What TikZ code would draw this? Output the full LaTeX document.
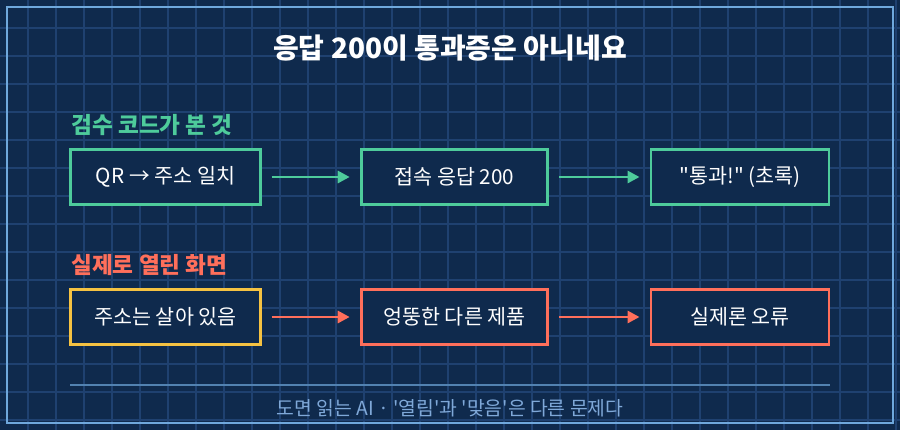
\documentclass[tikz,border=0pt]{standalone}
\usepackage{fontspec}
\setmainfont{Noto Sans CJK KR}[Ligatures=TeXOff]
\usetikzlibrary{positioning,arrows.meta}
\definecolor{bgblue}{HTML}{0F2A4D}
\definecolor{gridblue}{HTML}{1F4170}
\definecolor{edgeblue}{HTML}{6FA8DC}
\definecolor{okgreen}{HTML}{4ECB9B}
\definecolor{badred}{HTML}{FF6F5B}
\definecolor{warnyellow}{HTML}{F5C242}
\definecolor{notegray}{HTML}{7FA8D8}
\tikzset{
  stage/.style={draw=#1, line width=2.2pt, fill=bgblue, minimum height=41pt, text=white, font=\fontsize{15.5}{18}\selectfont},
  flow/.style={-{Triangle[length=9pt,width=9pt]}, line width=2.2pt, shorten <=7.5pt, shorten >=7.5pt},
  heading/.style={anchor=west, inner sep=0pt, font=\fontsize{17}{20}\selectfont\bfseries}
}
\begin{document}
\begin{tikzpicture}[x=0.75pt,y=-0.75pt]
\useasboundingbox (0,0) rectangle (900,430);
\fill[bgblue] (0,0) rectangle (900,430);
\foreach \i in {1,...,32} \draw[gridblue, line width=0.8pt] (28*\i,0) -- (28*\i,430);
\foreach \j in {1,...,15} \draw[gridblue, line width=0.8pt] (0,28*\j) -- (900,28*\j);
\draw[edgeblue, line width=1.8pt] (7,7) rectangle (893,423);

% title
\node[text=white, font=\fontsize{21}{24}\selectfont\bfseries] (title) at (450,48) {응답 200이 통과증은 아니네요};

% what the checker saw
\node[heading, text=okgreen] (seenhead) at (71,125) {검수 코드가 본 것};
\node[stage=okgreen, minimum width=142pt] (qr) at (165.5,177) {QR → 주소 일치};
\node[stage=okgreen, minimum width=140pt] (resp) at (454.5,177) {접속 응답 200};
\node[stage=okgreen, minimum width=133.5pt] (pass) at (740,177) {"통과!" (초록)};
\draw[flow, okgreen] (qr) -- (resp);
\draw[flow, okgreen] (resp) -- (pass);

% what actually opened
\node[heading, text=badred] (realhead) at (71,265) {실제로 열린 화면};
\node[stage=warnyellow, minimum width=142pt] (alive) at (165.5,317) {주소는 살아 있음};
\node[stage=badred, minimum width=140pt] (wrong) at (454.5,317) {엉뚱한 다른 제품};
\node[stage=badred, minimum width=133.5pt] (err) at (740,317) {실제론 오류};
\draw[flow, badred] (alive) -- (wrong);
\draw[flow, badred] (wrong) -- (err);

% footer
\coordinate (ruleL) at (70,385);
\coordinate (ruleR) at (830,385);
\draw[edgeblue!70!bgblue, line width=0.8pt] (ruleL) -- (ruleR);
\node[text=notegray, font=\fontsize{14.5}{16}\selectfont] (note) at (450,408) {도면 읽는 AI · '열림'과 '맞음'은 다른 문제다};
\end{tikzpicture}
\end{document}
